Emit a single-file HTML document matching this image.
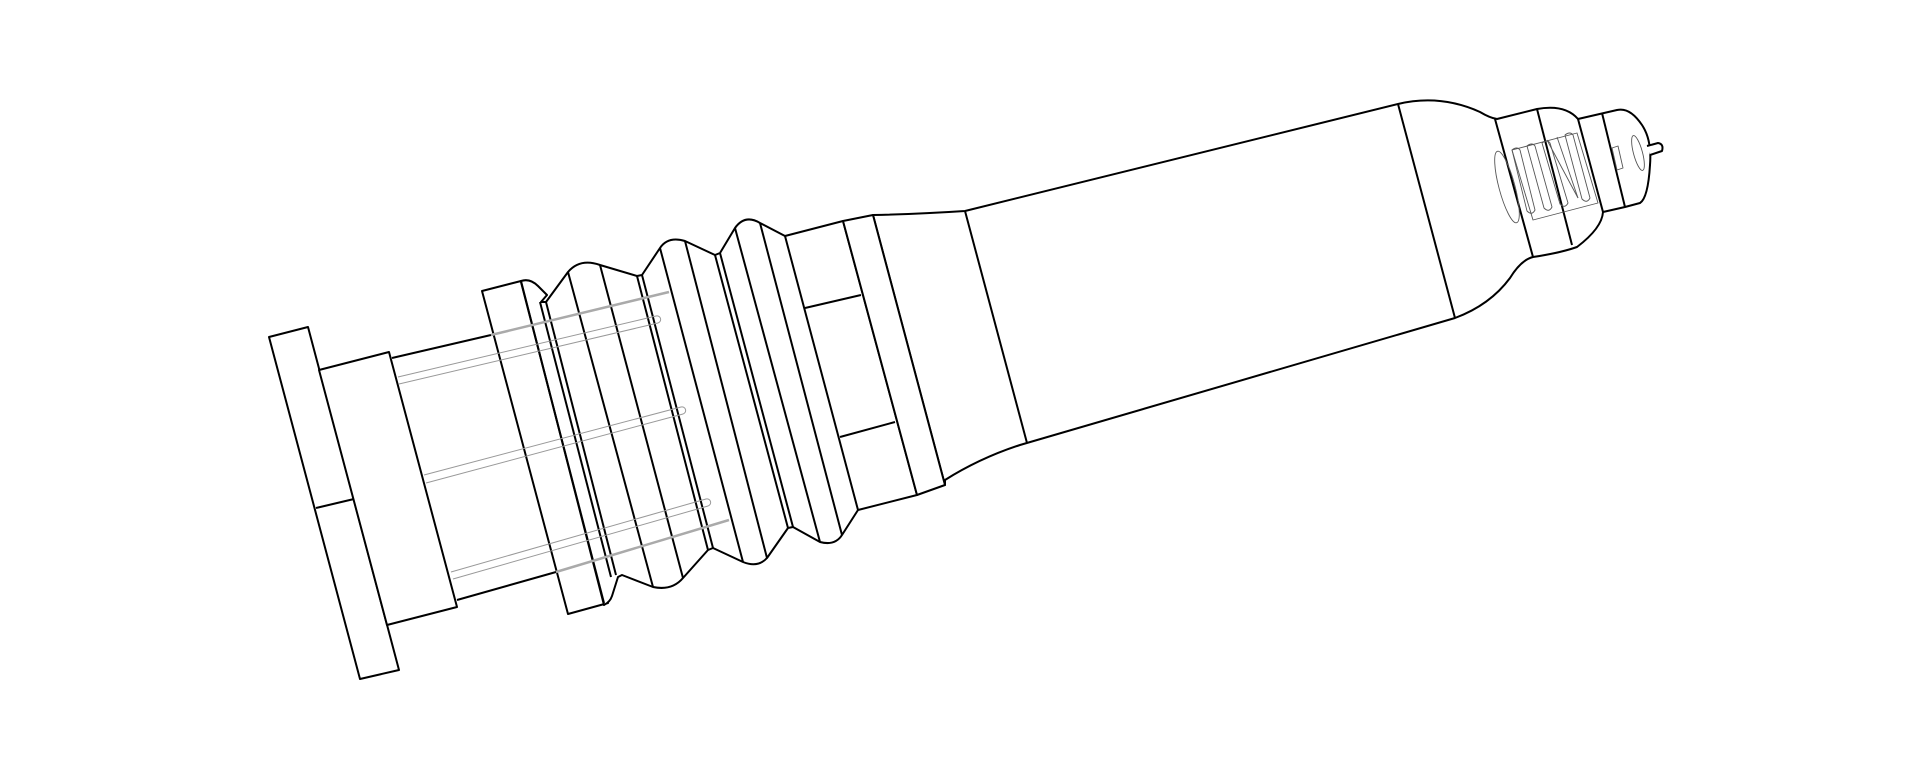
<!DOCTYPE html>
<html><head><style>html,body{margin:0;padding:0;background:#fff;}svg{display:block}</style></head>
<body>
<svg width="1920" height="760" viewBox="0 0 1920 760" xmlns="http://www.w3.org/2000/svg" fill="none" stroke="#000" stroke-width="2" stroke-linejoin="round">
<!-- left plate -->
<polygon points="269,337 308,327 399,670 360,679" fill="#fff"/>
<line x1="316" y1="508" x2="354" y2="499"/>
<!-- second plate -->
<polygon points="319,370 389,352 457,607 387,625" fill="#fff"/>
<line x1="392" y1="358" x2="491" y2="335"/>
<line x1="457" y1="600" x2="556" y2="572"/>
<!-- flange -->
<polygon points="482,291 521,281 608,603 568,614" fill="#fff"/>
<!-- bellows body -->
<path d="M521,281 Q530,278 538,286 L547,295 L541,302 L546,302 L568,272 Q580,258 600,265 L637,276 L642,275 L660,248 Q668,236 685,241 L715,255 L720,253 L735,228 Q745,214 760,223 L785,236 L843,221 L917,495 L858,510 L842,535 Q835,546 820,542 L793,527 L788,528 L767,558 Q758,568 743,562 L713,548 L708,550 L683,578 Q672,591 653,587 L622,575 L618,577 L612,596 Q610,602 604,605 Z" fill="#fff"/>
<g>
<line x1="521" y1="282" x2="604" y2="603"/>
<line x1="540" y1="302" x2="611" y2="577"/>
<line x1="546" y1="302" x2="616" y2="575"/>
<line x1="568" y1="272" x2="653" y2="587"/>
<line x1="600" y1="265" x2="683" y2="578"/>
<line x1="637" y1="276" x2="708" y2="550"/>
<line x1="642" y1="275" x2="713" y2="548"/>
<line x1="660" y1="248" x2="743" y2="562"/>
<line x1="685" y1="241" x2="767" y2="558"/>
<line x1="715" y1="255" x2="788" y2="528"/>
<line x1="720" y1="253" x2="793" y2="527"/>
<line x1="735" y1="228" x2="820" y2="542"/>
<line x1="760" y1="223" x2="842" y2="535"/>
<line x1="785" y1="236" x2="858" y2="510"/>
</g>
<line x1="805" y1="308" x2="861" y2="295"/>
<line x1="840" y1="437" x2="895" y2="422"/>
<!-- rods -->
<g stroke="#999" stroke-width="1">
<path d="M398,377 L656,316 a3.5,3.5 0 0 1 2,7 L399,384"/>
<path d="M424,475 L681,407 a3.5,3.5 0 0 1 2,7 L426,483"/>
<path d="M451,572 L706,499 a3.5,3.5 0 0 1 2,7 L453,579"/>
</g>
<g stroke="#aaa" stroke-width="2.5">
<line x1="491" y1="335" x2="669" y2="292"/>
<line x1="556" y1="572" x2="729" y2="520"/>
</g>
<!-- main body -->
<path d="M873,215 Q920,214 965,211 L1398,104 Q1440,94 1480,112 Q1490,118 1497,119 L1537,109 Q1565,104 1578,119 L1617,110 Q1630,107 1642,125 Q1652,140 1650,165 Q1648,198 1640,203 L1625,207 L1603,212 Q1602,228 1577,247 Q1560,253 1533,257 Q1521,260 1510,278 Q1490,305 1455,318 L1020,445 Q980,458 945,480 L945,485 Z" fill="#fff"/>
<polygon points="843,221 873,215 945,485 917,495" fill="#fff"/>
<line x1="965" y1="211" x2="1027" y2="443"/>
<line x1="1398" y1="104" x2="1455" y2="318"/>
<line x1="1495" y1="119" x2="1533" y2="257"/>
<line x1="1537" y1="109" x2="1572" y2="245"/>
<line x1="1578" y1="119" x2="1603" y2="212"/>
<line x1="1602" y1="113" x2="1625" y2="207"/>
<path d="M1647,146 L1658,143 Q1664,144 1662,151 L1650,155" fill="#fff"/>
<g stroke="#555" stroke-width="0.9">
<ellipse cx="1638" cy="153" rx="4.5" ry="18" transform="rotate(-15 1638 153)"/>
<polygon points="1612,148 1618,146 1623,168 1617,170"/>
<ellipse cx="1507" cy="187" rx="8" ry="37" transform="rotate(-15 1507 187)"/>
<path d="M1512,150 L1577,133 L1598,203 L1533,220 Z"/>
<path d="M1512,150 q5,-4 8,0 L1535,210 q-3,6 -8,1 Z"/>
<path d="M1527,146 q5,-4 8,0 L1552,207 q-3,6 -8,1 Z"/>
<path d="M1542,143 q5,-4 8,0 L1568,203 q-3,6 -8,1 Z"/>
<path d="M1565,135 q5,-4 8,0 L1590,198 q-3,6 -8,1 Z"/>
<line x1="1547" y1="140" x2="1578" y2="198"/>
<line x1="1557" y1="137" x2="1578" y2="198"/>
</g>
</svg>
</body></html>
